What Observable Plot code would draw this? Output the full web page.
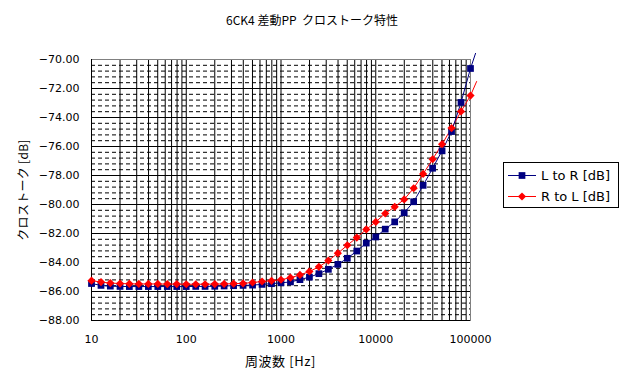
<!DOCTYPE html>
<html><head><meta charset="utf-8">
<script src="https://cdn.jsdelivr.net/npm/d3@7"></script>
<script src="https://cdn.jsdelivr.net/npm/@observablehq/plot@0.6"></script>
<style>
body{margin:0;background:#fff;}
#wrap{position:relative;width:631px;height:386px;font-family:"DejaVu Sans","Noto Sans CJK JP",sans-serif;color:#000;overflow:hidden;}
#wrap svg.plot{position:absolute;left:0;top:0;}
.t{position:absolute;white-space:pre;}
#title{left:0;width:624px;top:11px;text-align:center;font-size:12px;font-family:"Noto Sans CJK JP",sans-serif;}
#xlab{left:0;width:561px;top:351px;text-align:center;font-size:13px;letter-spacing:0.6px;font-family:"Noto Sans CJK JP",sans-serif;}
#ylab{left:22px;top:190px;transform:translate(-50%,-50%) rotate(-90deg);font-size:12px;letter-spacing:0.3px;font-family:"Noto Sans CJK JP",sans-serif;}
#legend{position:absolute;left:503px;top:162px;width:114px;height:44px;border:1px solid #000;background:#fff;font-size:13px;}
#legend .row{position:absolute;left:4px;height:20px;display:flex;align-items:center;}
#legend svg{margin-right:3px;}
</style></head>
<body><div id="wrap">
<div id="title" class="t">6CK4 差動PP  クロストーク特性</div>
<div id="xlab" class="t">周波数 [Hz]</div>
<div id="ylab" class="t">クロストーク [dB]</div>
<div id="legend"></div>
</div>
<script>
const freqs = [10, 12.6, 15.8, 20, 25.1, 31.6, 39.8, 50.1, 63.1, 79.4,
  100, 126, 158, 200, 251, 316, 398, 501, 631, 794,
  1000, 1259, 1585, 1995, 2512, 3162, 3981, 5012, 6310, 7943,
  10000, 12589, 15849, 19953, 25119, 31623, 39811, 50119, 63096, 79433, 100000];
const lToR = [-85.45, -85.58, -85.63, -85.65, -85.66, -85.66, -85.66, -85.66, -85.66, -85.66,
  -85.66, -85.65, -85.65, -85.64, -85.62, -85.60, -85.58, -85.56, -85.51, -85.46,
  -85.40, -85.34, -85.18, -85.01, -84.77, -84.47, -84.13, -83.71, -83.21, -82.66,
  -82.24, -81.70, -81.20, -80.57, -79.81, -78.68, -77.50, -76.30, -74.97, -72.96, -70.62];
const rToL = [-85.25, -85.35, -85.42, -85.45, -85.47, -85.48, -85.48, -85.48, -85.49, -85.49,
  -85.50, -85.50, -85.50, -85.49, -85.48, -85.46, -85.44, -85.38, -85.31, -85.26,
  -85.19, -85.05, -84.86, -84.62, -84.30, -83.87, -83.36, -82.81, -82.28, -81.72,
  -81.20, -80.62, -80.16, -79.65, -78.88, -77.89, -76.88, -75.84, -74.73, -73.58, -72.49];
const seriesNames = ["L to R [dB]", "R to L [dB]"];
const seriesColors = ["#000080", "#ff0000"];
const trendEndFreq = [113000, 116000];
const trendEndDb = [-69.58, -71.52];
const xTickValues = [10, 100, 1000, 10000, 100000];
const yTickValues = [-88, -86, -84, -82, -80, -78, -76, -74, -72, -70];

// gridline positions
const xGrid = [];
for (let e = 1; e < 5; e++) for (let m = 1; m <= 9; m++) xGrid.push(m * Math.pow(10, e));
const yMinor = [];
for (let i = 0; i <= 45; i++) { if (i % 5 !== 0) yMinor.push(-88 + i * 0.4); }
const yMajor = yTickValues.filter(v => v > -88 && v < -70);

const lData = freqs.map((f, i) => ({f, v: lToR[i]}));
const rData = freqs.map((f, i) => ({f, v: rToL[i]}));
const lTrend = [{f: freqs[freqs.length - 1], v: lToR[lToR.length - 1]}, {f: trendEndFreq[0], v: trendEndDb[0]}];
const rTrend = [{f: freqs[freqs.length - 1], v: rToL[rToL.length - 1]}, {f: trendEndFreq[1], v: trendEndDb[1]}];

const sqR = 3.8, diR = 3.7;
const chart = Plot.plot({
  width: 631, height: 386,
  marginLeft: 91, marginRight: 161, marginTop: 59, marginBottom: 66,
  style: {fontFamily: "DejaVu Sans, sans-serif", fontSize: "11px", color: "#000", background: "transparent", overflow: "visible"},
  x: {type: "log", domain: [10, 100000]},
  y: {domain: [-88, -70]},
  marks: [
    Plot.ruleY(yMinor, {stroke: "#000", strokeWidth: 1, strokeDasharray: "4,3"}),
    Plot.ruleY(yMajor, {stroke: "#000", strokeWidth: 1}),
    Plot.ruleX(xGrid, {stroke: "#000", strokeWidth: 1}),
    Plot.frame({stroke: "#808080"}),
    Plot.ruleX([10], {stroke: "#000"}),
    Plot.ruleY([-88], {stroke: "#000"}),
    Plot.axisX({ticks: xTickValues, tickSize: 0, tickPadding: 15, tickFormat: d => String(d), label: null}),
    Plot.axisY({ticks: yTickValues, tickSize: 0, tickPadding: 12, tickFormat: d => d.toFixed(2).replace("-", "\u2212"), label: null}),
    Plot.line(rData, {x: "f", y: "v", stroke: seriesColors[1], strokeWidth: 1}),
    Plot.line(rTrend, {x: "f", y: "v", stroke: seriesColors[1], strokeWidth: 1}),
    Plot.line(lData, {x: "f", y: "v", stroke: seriesColors[0], strokeWidth: 1}),
    Plot.line(lTrend, {x: "f", y: "v", stroke: seriesColors[0], strokeWidth: 1}),
    Plot.dot(lData, {x: "f", y: "v", symbol: "square", r: sqR, fill: seriesColors[0], stroke: "none"}),
    Plot.dot(rData, {x: "f", y: "v", symbol: "diamond2", r: diR, fill: seriesColors[1], stroke: "none"})
  ]
});
chart.classList.add("plot");
const wrap = document.getElementById("wrap");
wrap.insertBefore(chart, wrap.firstChild);

// legend
const legend = document.getElementById("legend");
seriesNames.forEach((name, i) => {
  const row = document.createElement("div");
  row.className = "row";
  row.style.top = (5 + i * 21 - 3) + "px";
  const s = d3.create("svg").attr("width", 30).attr("height", 10);
  s.append("line").attr("x1", 0).attr("x2", 28).attr("y1", 5.5).attr("y2", 5.5).attr("stroke", seriesColors[i]);
  const symType = i === 0 ? d3.symbolSquare : d3.symbolDiamond2;
  const size = i === 0 ? Math.PI * sqR * sqR : Math.PI * diR * diR;
  s.append("path").attr("d", d3.symbol(symType, size)()).attr("transform", "translate(14,5.5)").attr("fill", seriesColors[i]);
  row.appendChild(s.node());
  const t = document.createElement("span");
  t.textContent = name;
  row.appendChild(t);
  legend.appendChild(row);
});
</script>
</body></html>
